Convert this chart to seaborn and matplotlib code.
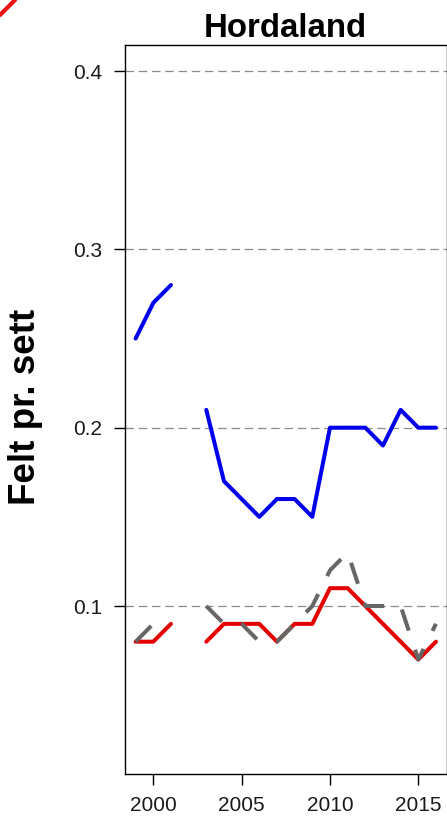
import matplotlib
matplotlib.use("Agg")
import matplotlib.pyplot as plt
from matplotlib.lines import Line2D
import numpy as np
import pandas as pd
import seaborn as sns

# data (2002 missing for all series)
years = list(range(1999, 2017))
blue_vals = [0.25, 0.27, 0.28, np.nan, 0.21, 0.17, 0.16, 0.15, 0.16, 0.16,
             0.15, 0.20, 0.20, 0.20, 0.19, 0.21, 0.20, 0.20]
red_vals = [0.08, 0.08, 0.09, np.nan, 0.08, 0.09, 0.09, 0.09, 0.08, 0.09,
            0.09, 0.11, 0.11, 0.10, 0.09, 0.08, 0.07, 0.08]
gray_vals = [0.08, 0.09, 0.09, np.nan, 0.10, 0.09, 0.09, 0.08, 0.08, 0.09,
             0.10, 0.12, 0.13, 0.10, 0.10, 0.10, 0.07, 0.09]
y_ticks = [0.1, 0.2, 0.3, 0.4]
x_ticks = [2000, 2005, 2010, 2015]
title = "Hordaland"
ylabel = "Felt pr. sett"

sns.set_style("white")
plt.rcParams["font.family"] = ["Liberation Sans", "DejaVu Sans"]
plt.rcParams["text.color"] = "black"
plt.rcParams["axes.labelcolor"] = "black"

wide = pd.DataFrame({"year": years, "blue": blue_vals, "red": red_vals, "gray": gray_vals})
long = wide.melt(id_vars="year", var_name="series", value_name="value")
# break each series into segments at missing years
long["seg"] = long.groupby("series")["value"].transform(lambda s: s.isna().cumsum())
long = long.dropna()

fig = plt.figure(figsize=(4.47, 8.19), dpi=100)
ax = fig.add_axes([124.5 / 447, 45 / 819, 322 / 447, 729 / 819])

lw = 2.9
styles = {
    "blue": dict(color="#0000EE", linestyle="-"),
    "red": dict(color="#E50000", linestyle="-"),
    "gray": dict(color="#666666", linestyle=(0, (5.5, 5.0))),
}
for name in ["blue", "red", "gray"]:
    sub = long[long["series"] == name]
    sns.lineplot(data=sub, x="year", y="value", units="seg", estimator=None,
                 sort=False, lw=lw, legend=False, ax=ax,
                 solid_capstyle="round", **styles[name])

ax.set_xlim(1998.37, 2016.596)
ax.set_ylim(0.0058, 0.4146)
ax.set_xticks(x_ticks)
ax.set_yticks(y_ticks)
ax.set_yticklabels([f"{v:.1f}" for v in y_ticks])
ax.grid(axis="y", color="#8c8c8c", lw=0.9, linestyle=(0, (6.8, 3.8)))
ax.grid(axis="x", visible=False)
ax.set_axisbelow(True)
ax.tick_params(direction="out", length=8, width=1, labelsize=15, pad=8,
               colors="black", labelcolor="#1a1a1a", left=True, bottom=True)
for sp in ax.spines.values():
    sp.set_color("black")
    sp.set_linewidth(1)

ax.set_xlabel("")
ax.set_title(title, fontsize=23.8, fontweight="bold", pad=5.5, color="black")
ax.set_ylabel(ylabel, fontsize=26.5, fontweight="bold", color="black")
ax.yaxis.set_label_coords(-0.253, 0.503)

# red stroke in the top-left corner of the original crop
fig.add_artist(Line2D([0, 15 / 447], [1 - 15 / 819, 1], transform=fig.transFigure,
                      color="#ee1111", lw=3))

fig.savefig("out.png", dpi=100)
